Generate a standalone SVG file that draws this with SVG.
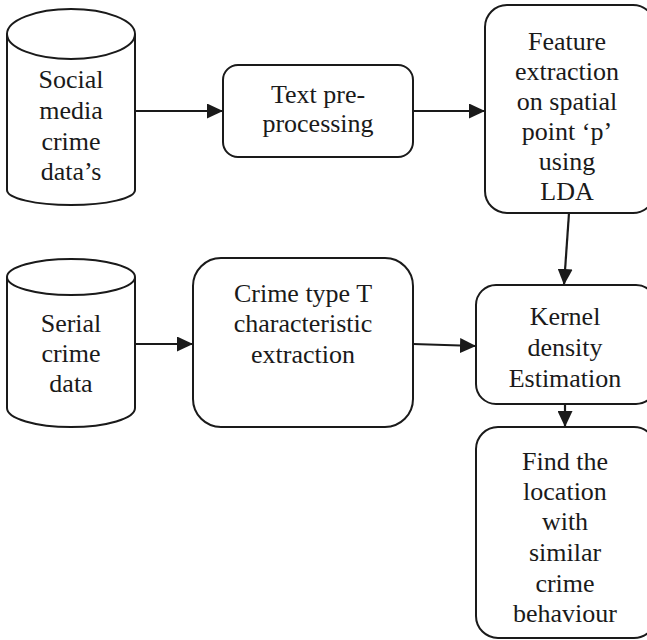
<svg xmlns="http://www.w3.org/2000/svg" width="647" height="640" viewBox="0 0 647 640">
<style>
.s{fill:#fff;stroke:#1a1a1a;stroke-width:2}
.t{font-family:"Liberation Serif","Times New Roman",serif;font-size:26px;fill:#1a1a1a;text-anchor:middle}
.c{fill:none;stroke:#1a1a1a;stroke-width:2.2}
</style>
<defs>
<marker id="ah" markerUnits="userSpaceOnUse" markerWidth="17" markerHeight="15" refX="16" refY="7.5" orient="auto">
<path d="M0,0 L16,7.5 L0,15 Z" fill="#1a1a1a"/>
</marker>
</defs>
<rect width="647" height="640" fill="#fff"/>
<g id="social">
<path class="s" d="M7,34 L7,190 A64,15 0 0 0 135,190 L135,34"/>
<ellipse class="s" cx="71" cy="34" rx="64" ry="25"/>
<text class="t" x="71" y="88">Social</text>
<text class="t" x="71" y="119">media</text>
<text class="t" x="71" y="150">crime</text>
<text class="t" x="71" y="180">data’s</text>
</g>
<g id="serial">
<path class="s" d="M7,277 L7,408 A64,19 0 0 0 135,408 L135,277"/>
<ellipse class="s" cx="71" cy="277" rx="64" ry="18"/>
<text class="t" x="71" y="332">Serial</text>
<text class="t" x="71" y="362">crime</text>
<text class="t" x="71" y="392">data</text>
</g>
<g id="textpre">
<rect class="s" x="223" y="65" width="190" height="92" rx="15"/>
<text class="t" x="318" y="103">Text pre-</text>
<text class="t" x="318" y="132">processing</text>
</g>
<g id="feature">
<rect class="s" x="485" y="5" width="170" height="208" rx="22"/>
<text class="t" x="567" y="50">Feature</text>
<text class="t" x="567" y="80">extraction</text>
<text class="t" x="567" y="110">on spatial</text>
<text class="t" x="567" y="140">point ‘p’</text>
<text class="t" x="567" y="170">using</text>
<text class="t" x="567" y="200">LDA</text>
</g>
<g id="crimetype">
<rect class="s" x="193" y="258" width="220" height="169" rx="28"/>
<text class="t" x="303" y="302">Crime type T</text>
<text class="t" x="303" y="332">characteristic</text>
<text class="t" x="303" y="363">extraction</text>
</g>
<g id="kernel">
<rect class="s" x="476" y="285" width="180" height="119" rx="20"/>
<text class="t" x="565" y="325">Kernel</text>
<text class="t" x="565" y="356">density</text>
<text class="t" x="565" y="387">Estimation</text>
</g>
<g id="find">
<rect class="s" x="476" y="427" width="180" height="211" rx="22"/>
<text class="t" x="565" y="470">Find the</text>
<text class="t" x="565" y="500">location</text>
<text class="t" x="565" y="530">with</text>
<text class="t" x="565" y="561">similar</text>
<text class="t" x="565" y="592">crime</text>
<text class="t" x="565" y="622">behaviour</text>
</g>
<g id="connectors">
<line class="c" x1="135" y1="111" x2="223" y2="111" marker-end="url(#ah)"/>
<line class="c" x1="413" y1="111" x2="485" y2="111" marker-end="url(#ah)"/>
<line class="c" x1="569" y1="213" x2="564" y2="285" marker-end="url(#ah)"/>
<line class="c" x1="135" y1="344" x2="193" y2="344" marker-end="url(#ah)"/>
<line class="c" x1="413" y1="344" x2="476" y2="346" marker-end="url(#ah)"/>
<line class="c" x1="565" y1="404" x2="565" y2="427" marker-end="url(#ah)"/>
</g>
</svg>
